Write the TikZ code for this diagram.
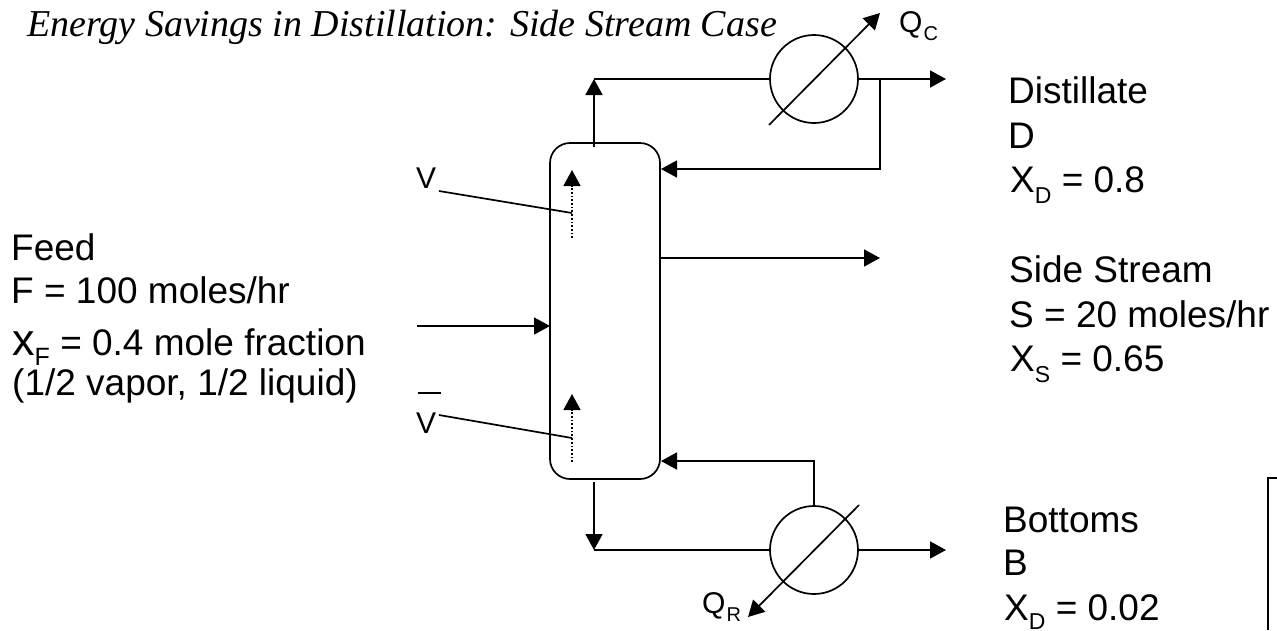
\documentclass[tikz,border=0pt]{standalone}
\usepackage{fontspec}
\setmainfont{Liberation Sans}
\newfontfamily\titlefont{Liberation Serif}
\usetikzlibrary{arrows.meta}
\tikzset{
  ln/.style={line width=1.7pt,line join=miter},
  arr/.style={ln,-{Triangle[length=16pt,width=17pt]}},
  lbl/.style={anchor=base west,inner sep=0pt,font=\fontsize{37}{40}\selectfont},
  smlbl/.style={anchor=base west,inner sep=0pt,font=\fontsize{30}{34}\selectfont},
  hx/.style={circle,draw,line width=1.7pt,minimum size=88pt,inner sep=0pt},
  column/.style={draw,line width=1.7pt,rounded corners=20pt,minimum width=110pt,minimum height=336pt,inner sep=0pt},
  inner/.style={line width=1.7pt,dotted,line cap=butt}
}
\newcommand{\sbs}[2][11pt]{\raisebox{-#1}{\fontsize{23}{26}\selectfont #2}}
\newcommand{\qsb}[1]{\raisebox{-8pt}{\fontsize{20}{24}\selectfont #1}}
\begin{document}
\begin{tikzpicture}[x=1pt,y=-1pt]
\useasboundingbox (0,0) rectangle (1277,630);
% equipment
\node[column] (col) at (605,311) {};
\node[hx] (cond) at (814,79) {};
\node[hx] (reb) at (814,550) {};
% free ends
\coordinate (topstart) at (594,147);
\coordinate (topcorner) at (594,79);
\coordinate (dist) at (946,79);
\coordinate (branch) at (880,79);
\coordinate (refl) at (880,169);
\coordinate (reflin) at (661,169);
\coordinate (sidein) at (660,258);
\coordinate (sideout) at (880,258);
\coordinate (feedstart) at (417,326);
\coordinate (feedend) at (550,326);
\coordinate (botstart) at (594,482);
\coordinate (botcorner) at (594,550);
\coordinate (botout) at (946,550);
\coordinate (rebup) at (814,461);
\coordinate (rebin) at (661,461);
\coordinate (cA) at (769,125);
\coordinate (cB) at (880,13);
\coordinate (rA) at (859,505);
\coordinate (rB) at (748,617);
\coordinate (vA) at (572,238);
\coordinate (vB) at (572,186);
\coordinate (vC) at (572,170);
\coordinate (wA) at (572,462);
\coordinate (wB) at (572,410);
\coordinate (wC) at (572,394);
\coordinate (vs) at (439,191);
\coordinate (ve) at (572,213);
\coordinate (ws) at (439,415);
\coordinate (we) at (572,438);
\coordinate (barA) at (418,393);
\coordinate (barB) at (441,393);
\coordinate (boxA) at (1277,478);
\coordinate (boxB) at (1268,478);
\coordinate (boxC) at (1268,630);
% connectors
\draw[arr] (topstart) -- (topcorner);
\draw[ln] (topcorner) -- (cond.west);
\draw[arr] (cond.east) -- (dist);
\draw[arr] (branch) -- (refl) -- (reflin);
\draw[arr] (sidein) -- (sideout);
\draw[arr] (feedstart) -- (feedend);
\draw[arr] (botstart) -- (botcorner);
\draw[ln] (botcorner) -- (reb.west);
\draw[arr] (reb.east) -- (botout);
\draw[arr] (reb.north) -- (rebup) -- (rebin);
\draw[arr] (cA) -- (cB);
\draw[arr] (rA) -- (rB);
\draw[inner] (vA) -- (vB);
\draw[inner] (wA) -- (wB);
\draw[arr] (vB) -- (vC);
\draw[arr] (wB) -- (wC);
\draw[ln] (vs) -- (ve);
\draw[ln] (ws) -- (we);
\draw[ln] (barA) -- (barB);
\draw[ln] (boxA) -- (boxB) -- (boxC);
% text
\node[anchor=base west,inner sep=0pt,font=\titlefont\itshape\fontsize{38}{42}\selectfont] (title) at (27,36) {Energy Savings in Distillation: Side Stream Case};
\node[smlbl] (qc) at (899,32) {Q\hspace{1pt}\qsb{C}};
\node[smlbl] (qr) at (702,613) {Q\hspace{1pt}\qsb{R}};
\node[lbl] (d1) at (1008,103) {Distillate};
\node[lbl] (d2) at (1008,148) {D};
\node[lbl] (d3) at (1010,192) {X\sbs{D} = 0.8};
\node[lbl] (s1) at (1009,282) {Side Stream};
\node[lbl] (s2) at (1009,327) {S = 20 moles/hr};
\node[lbl] (s3) at (1010,371) {X\sbs{S} = 0.65};
\node[lbl] (b1) at (1003,532) {Bottoms};
\node[lbl] (b2) at (1003,575) {B};
\node[lbl] (b3) at (1004,620) {X\sbs[9pt]{D} = 0.02};
\node[lbl] (f1) at (11,260) {Feed};
\node[lbl] (f2) at (11,303) {F = 100 moles/hr};
\node[lbl] (f3) at (12,355) {{\fontsize{45}{46}\selectfont x}\raisebox{-10pt}{\fontsize{25}{28}\selectfont F} = 0.4 mole fraction};
\node[lbl] (f4) at (12,395) {(1/2 vapor, 1/2 liquid)};
\node[smlbl] (v1) at (416,188) {V};
\node[smlbl] (v2) at (416,433) {V};
\end{tikzpicture}
\end{document}
